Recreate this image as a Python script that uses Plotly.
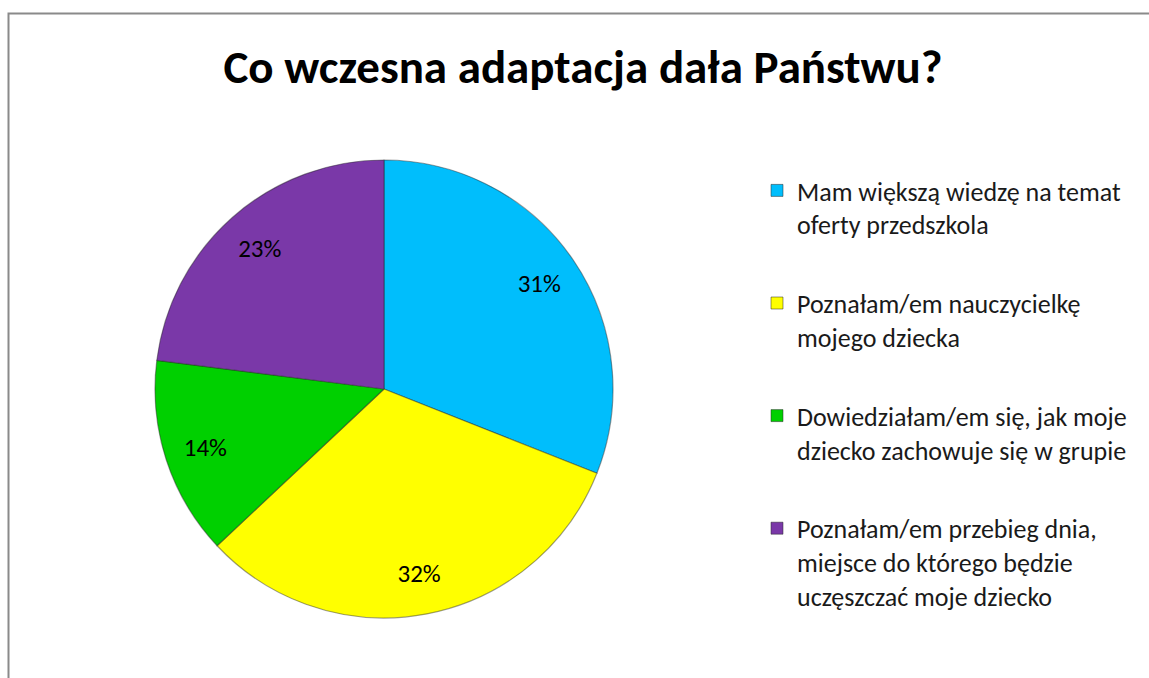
import plotly.graph_objects as go

# ---- data ----
title_text = "Co wczesna adaptacja dała Państwu?"
categories = [
    "Mam większą wiedzę na temat<br>oferty przedszkola",
    "Poznałam/em nauczycielkę<br>mojego dziecka",
    "Dowiedziałam/em się, jak moje<br>dziecko zachowuje się w grupie",
    "Poznałam/em przebieg dnia,<br>miejsce do którego będzie<br>uczęszczać moje dziecko",
]
values = [31, 32, 14, 23]
colors = ["#00BEFC", "#FFFF00", "#00D000", "#7A38A8"]

W, H = 1149, 678
FONT = "Calibri, Carlito, Lato, sans-serif"

fig = go.Figure()

# pie centre ~ (384, 389), radius ~229 px
cx, cy, r = 384, 389, 229
dom = dict(x=[(cx - r) / W, (cx + r) / W], y=[(H - cy - r) / H, (H - cy + r) / H])

# coloured slices with outlines
fig.add_trace(go.Pie(
    labels=categories, values=values, sort=False,
    direction="clockwise", rotation=0,
    marker=dict(colors=colors, line=dict(color="rgba(40,40,40,0.45)", width=1.2)),
    textinfo="none", hoverinfo="label+percent",
    showlegend=False, domain=dom,
))
# percentage labels placed in the outer part of each slice (transparent ring)
fig.add_trace(go.Pie(
    labels=categories, values=values, sort=False,
    direction="clockwise", rotation=0, hole=0.64,
    marker=dict(colors=["rgba(0,0,0,0)"] * len(values), line=dict(width=0)),
    texttemplate="%{percent:.0%}", textposition="inside",
    insidetextorientation="horizontal",
    textfont=dict(family=FONT, size=25, color="#000000"),
    hoverinfo="skip", showlegend=False, domain=dom,
))

# legend entries (one per category, same labels/colours as the pie)
for i, (lab, col) in enumerate(zip(categories, colors)):
    fig.add_trace(go.Scatter(
        x=[None], y=[None], mode="markers", name=lab,
        legendgroup=f"g{i}",
        marker=dict(symbol="square", size=12, color=col,
                    line=dict(color="rgba(40,40,40,0.5)", width=1)),
        showlegend=True, hoverinfo="skip",
    ))

fig.update_layout(
    width=W, height=H,
    margin=dict(l=0, r=0, t=0, b=0),
    paper_bgcolor="white", plot_bgcolor="white",
    xaxis=dict(visible=False), yaxis=dict(visible=False),
    title=dict(text=title_text, x=583 / W, xanchor="center",
               y=1 - 67 / H, yanchor="middle", yref="container", xref="container",
               font=dict(family=FONT, size=47, color="#000000", weight="bold")),
    legend=dict(
        x=757 / W, xanchor="left", y=1 - 167 / H, yanchor="top",
        valign="top", tracegroupgap=42,
        font=dict(family=FONT, size=26, color="#1a1a1a"),
        bgcolor="rgba(0,0,0,0)", itemwidth=30,
    ),
    shapes=[
        dict(type="path", xref="paper", yref="paper",
             path=f"M {8.5 / W} 0 L {8.5 / W} {1 - 13.5 / H} L 1 {1 - 13.5 / H}",
             line=dict(color="#8a8a8a", width=2)),
    ],
)

fig.write_html(
    "out.html",
    config={"displayModeBar": False},
    post_script="document.body.style.margin='0';document.body.style.overflow='hidden';",
)
